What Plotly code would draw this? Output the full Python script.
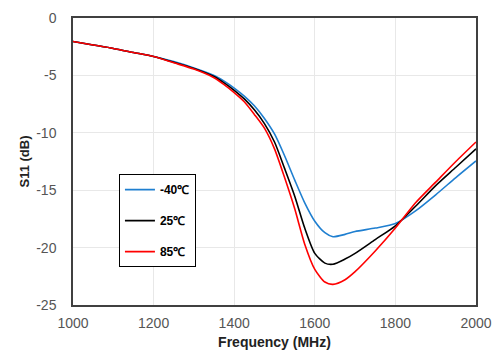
import plotly.graph_objects as go

# Frequency sweep (MHz) and S11 return loss (dB) at three temperatures
freq_mhz = [1000, 1050, 1100, 1150, 1200, 1250, 1300, 1350, 1375, 1400, 1425, 1450, 1475,
            1500, 1525, 1550, 1575, 1600, 1625, 1645, 1675, 1700, 1750, 1800, 1850, 1900,
            1950, 2000]

s11_m40 = [-2.05, -2.35, -2.65, -3.0, -3.35, -3.8, -4.35, -5.0, -5.5, -6.1, -6.8, -7.65, -8.75,
           -10.1, -12.0, -14.1, -16.1, -17.7, -18.7, -19.05, -18.85, -18.6, -18.3, -17.9, -16.8,
           -15.4, -13.9, -12.45]
s11_25 = [-2.05, -2.35, -2.65, -3.0, -3.35, -3.85, -4.4, -5.1, -5.65, -6.3, -7.05, -8.0, -9.2,
          -10.8, -13.1, -15.5, -18.3, -20.5, -21.35, -21.45, -21.0, -20.5, -19.3, -18.1, -16.4,
          -14.6, -13.0, -11.4]
s11_85 = [-2.05, -2.35, -2.65, -3.0, -3.35, -3.9, -4.45, -5.2, -5.8, -6.5, -7.3, -8.4, -9.6,
          -11.4, -13.9, -16.6, -19.7, -21.9, -23.0, -23.2, -22.8, -22.1, -20.3, -18.3, -16.1,
          -14.3, -12.5, -10.8]

series_names = ["-40\u2103", "25\u2103", "85\u2103"]
series_colors = ["#1f7fd0", "#000000", "#ff0000"]
x_ticks = [1000, 1200, 1400, 1600, 1800, 2000]
y_ticks = [0, -5, -10, -15, -20, -25]

FONT = "Liberation Sans, Arial"

fig = go.Figure()
for i, (name, ys, color) in enumerate(zip(series_names, [s11_m40, s11_25, s11_85], series_colors)):
    fig.add_trace(go.Scatter(
        x=freq_mhz, y=ys, name=name, mode="lines",
        line=dict(color=color, width=1.6, shape="spline", smoothing=0.7),
        legendgroup=f"g{i}",
    ))

axis_common = dict(
    showgrid=True, gridcolor="#e8e8e8", gridwidth=1,
    showline=True, linecolor="#404040", linewidth=1.5, mirror=True,
    ticks="", zeroline=False, automargin=False,
    tickfont=dict(family=FONT, size=14, color="#555555"),
)

fig.update_xaxes(
    range=[1000, 2000], tickvals=x_ticks, ticktext=[str(v) for v in x_ticks],
    ticklabelstandoff=4,
    title=dict(text="<b>Frequency (MHz)</b>", standoff=8,
               font=dict(family=FONT, size=14, color="#222222")),
    **axis_common,
)
fig.update_yaxes(
    range=[-25, 0], tickvals=y_ticks, ticktext=[str(v) for v in y_ticks],
    ticklabelstandoff=12,
    title=dict(text="<b>S11 (dB)</b>", standoff=4,
               font=dict(family=FONT, size=13, color="#222222")),
    **axis_common,
)

fig.update_layout(
    width=500, height=353,
    margin=dict(l=73, r=24, t=18, b=48),
    paper_bgcolor="white", plot_bgcolor="white",
    showlegend=True,
    legend=dict(
        x=0.114, y=0.456, xanchor="left", yanchor="top",
        bordercolor="#000000", borderwidth=1, bgcolor="white",
        font=dict(family=FONT, size=12, color="#000000", weight="bold"),
        itemwidth=30, tracegroupgap=12, traceorder="grouped",
    ),
)

fig.write_html("out.html")
